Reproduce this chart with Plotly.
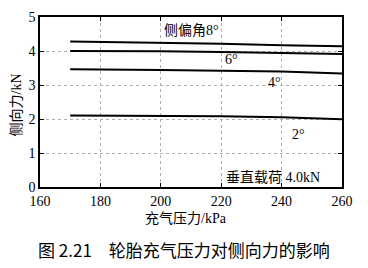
import plotly.graph_objects as go

pressure = [170, 180, 200, 220, 240, 260]
force_2deg = [2.10, 2.10, 2.10, 2.08, 2.05, 1.99]
force_4deg = [3.46, 3.46, 3.44, 3.42, 3.40, 3.34]
force_6deg = [4.00, 4.00, 3.99, 3.97, 3.95, 3.91]
force_8deg = [4.28, 4.27, 4.25, 4.21, 4.17, 4.14]

x_ticks = [160, 180, 200, 220, 240, 260]
y_ticks = [0, 1, 2, 3, 4, 5]

SERIF = "Liberation Serif, Noto Sans CJK SC"
CJK = "Noto Sans CJK SC"

fig = go.Figure()
for name, ys in [("2°", force_2deg), ("4°", force_4deg), ("6°", force_6deg), ("8°", force_8deg)]:
    fig.add_trace(go.Scatter(x=pressure, y=ys, mode="lines", name=name,
                             line=dict(color="black", width=2), showlegend=False))

ann_font = dict(family=SERIF, size=14, color="black")
annotations = [
    dict(x=210, y=4.6, text="侧偏角8°", showarrow=False, font=ann_font, xanchor="center", yanchor="middle"),
    dict(x=223.5, y=3.75, text="6°", showarrow=False, font=ann_font, xanchor="center", yanchor="middle"),
    dict(x=237.5, y=3.07, text="4°", showarrow=False, font=ann_font, xanchor="center", yanchor="middle"),
    dict(x=245.5, y=1.55, text="2°", showarrow=False, font=ann_font, xanchor="center", yanchor="middle"),
    dict(x=237, y=0.3, text="垂直载荷 4.0kN", showarrow=False, font=ann_font, xanchor="center", yanchor="middle"),
    dict(x=0.5, y=-0.128, xref="paper", yref="paper", text="充气压力/kPa", showarrow=False,
         font=dict(family=SERIF, size=14, color="black"), xanchor="center", yanchor="top", xshift=-5),
    dict(x=0, y=0.48, xref="paper", yref="paper", text="侧向力/kN", showarrow=False, textangle=-90,
         font=dict(family=SERIF, size=14, color="black"), xanchor="center", yanchor="middle", xshift=-24),
    dict(x=0.5, y=-0.37, xref="paper", yref="paper", text="图 2.21　轮胎充气压力对侧向力的影响", showarrow=False,
         font=dict(family=CJK, size=17, color="black"), xanchor="center", yanchor="middle", xshift=-7),
]

fig.update_layout(
    width=368, height=268,
    margin=dict(l=40, r=26, t=10, b=81),
    paper_bgcolor="white", plot_bgcolor="white",
    annotations=annotations,
    xaxis=dict(range=[160, 260], tickvals=x_ticks, ticks="inside", ticklen=4, tickcolor="black",
               showline=True, linecolor="black", linewidth=1.5, mirror="ticks",
               showgrid=True, gridcolor="#b0b0b0", griddash="dot", gridwidth=1, zeroline=False,
               tickfont=dict(family=SERIF, size=14, color="black")),
    yaxis=dict(range=[0, 5], tickvals=y_ticks, ticks="inside", ticklen=4, tickcolor="black",
               showline=True, linecolor="black", linewidth=1.5, mirror="ticks",
               showgrid=True, gridcolor="#b0b0b0", griddash="dot", gridwidth=1, zeroline=False,
               tickfont=dict(family=SERIF, size=14, color="black")),
)

fig.write_html("out.html")
